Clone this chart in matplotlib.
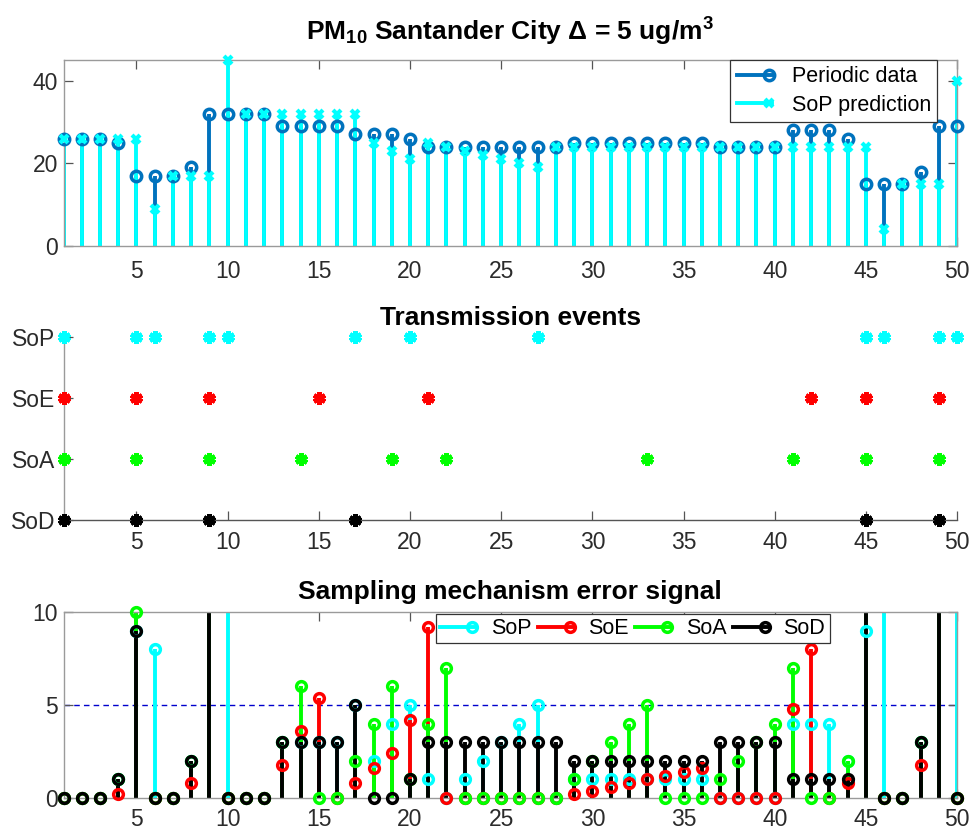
import numpy as np
import matplotlib
matplotlib.use("Agg")
import matplotlib.pyplot as plt
from matplotlib.lines import Line2D
from matplotlib.legend_handler import HandlerBase

plt.rcParams['font.family'] = ['Liberation Sans', 'DejaVu Sans']
plt.rcParams['mathtext.fontset'] = 'custom'
plt.rcParams['mathtext.rm'] = 'Liberation Sans:bold'
plt.rcParams['mathtext.bf'] = 'Liberation Sans:bold'
plt.rcParams['mathtext.it'] = 'Liberation Sans:bold'

# samples 1..50
samples = np.arange(1, 51)

periodic = [26, 26, 26, 25, 17, 17, 17, 19, 32, 32,
            32, 32, 29, 29, 29, 29, 27, 27, 27, 26,
            24, 24, 24, 24, 24, 24, 24, 24, 25, 25,
            25, 25, 25, 25, 25, 25, 24, 24, 24, 24,
            28, 28, 28, 26, 15, 15, 15, 18, 29, 29]
sop_pred = [26, 26, 26, 26, 26, 9, 17, 17, 17, 45,
            32, 32, 32, 32, 32, 32, 32, 25, 23, 21,
            25, 24, 23, 22, 21, 20, 19, 24, 24, 24,
            24, 24, 24, 24, 24, 24, 24, 24, 24, 24,
            24, 24, 24, 24, 24, 4, 15, 15, 15, 40]

# transmission instants of each mechanism
ev_sop = [1, 5, 6, 9, 10, 17, 20, 27, 45, 46, 49, 50]
ev_soe = [1, 5, 9, 15, 21, 42, 45, 49]
ev_soa = [1, 5, 9, 14, 19, 22, 33, 41, 45, 49]
ev_sod = [1, 5, 9, 17, 45, 49]
event_labels = ["SoD", "SoA", "SoE", "SoP"]

# error signals
err_sop = [0, 0, 0, 1, 9, 8, 0, 2, 15, 13,
           0, 0, 3, 3, 3, 3, 5, 2, 4, 5,
           1, 0, 1, 2, 3, 4, 5, 0, 1, 1,
           1, 1, 1, 1, 1, 1, 0, 0, 0, 0,
           4, 4, 4, 2, 9, 11, 0, 3, 14, 11]
err_soe = [0, 0, 0, 0.2, 16.4, 0, 0, 0.8, 45.8, 0,
           0, 0, 1.8, 3.6, 5.4, 0, 0.8, 1.6, 2.4, 4.2,
           9.2, 0, 0, 0, 0, 0, 0, 0, 0.2, 0.4,
           0.6, 0.8, 1.0, 1.2, 1.4, 1.6, 0, 0, 0, 0,
           4.8, 8.0, 0, 0.8, 34.6, 0, 0, 1.8, 41, 0]
err_soa = [0, 0, 0, 1, 10, 0, 0, 2, 17, 0,
           0, 0, 3, 6, 0, 0, 2, 4, 6, 1,
           4, 7, 0, 0, 0, 0, 0, 0, 1, 2,
           3, 4, 5, 0, 0, 0, 1, 2, 3, 4,
           7, 0, 0, 2, 15, 0, 0, 3, 17, 0]
err_sod = [0, 0, 0, 1, 9, 0, 0, 2, 15, 0,
           0, 0, 3, 3, 3, 3, 5, 0, 0, 1,
           3, 3, 3, 3, 3, 3, 3, 3, 2, 2,
           2, 2, 2, 2, 2, 2, 3, 3, 3, 3,
           1, 1, 1, 1, 12, 0, 0, 3, 14, 0]
delta = 5

blue = "#0072BD"
cyan = "#00FFFF"
red = "#FF0000"
green = "#00FF00"
spine_col = "#9a9a9a"
tick_col = "#2b2b2b"
stem_lw = 2.8


class StemEndHandler(HandlerBase):
    # line with the marker at its right end, like matlab stem legends
    def create_artists(self, legend, orig_handle, xdescent, ydescent,
                       width, height, fontsize, trans):
        y = (height - ydescent) / 2
        x1 = -xdescent + width
        line = Line2D([-xdescent, x1 - 2], [y, y], color=orig_handle.get_color(),
                      linewidth=orig_handle.get_linewidth())
        mark = Line2D([x1 - 4], [y], linestyle="none",
                      marker=orig_handle.get_marker(),
                      markersize=orig_handle.get_markersize(),
                      markeredgewidth=orig_handle.get_markeredgewidth(),
                      markeredgecolor=orig_handle.get_color(),
                      markerfacecolor="none")
        line.set_transform(trans)
        mark.set_transform(trans)
        return [line, mark]


def style_axes(ax, xpad, box=True, ypad=4):
    for s in ax.spines.values():
        s.set_color(spine_col)
        s.set_linewidth(1.0)
    ax.tick_params(direction="in", length=6.5, width=0.9, color="#555555",
                   labelsize=16.5, labelcolor=tick_col, top=box, right=box)
    ax.tick_params(axis="x", pad=xpad)
    ax.tick_params(axis="y", pad=ypad)
    ax.set_xticks(range(5, 51, 5))
    ax.set_xlim(1, 50)


def stems(ax, x, y, color):
    ax.vlines(x, 0, y, colors=color, linewidth=stem_lw, zorder=2)


def stem_marks(ax, x, y, color, top, marker="o", ms=7, mew=2.5):
    x = np.asarray(x)
    y = np.asarray(y, dtype=float)
    keep = y <= top
    ax.plot(x[keep], y[keep], linestyle="none", marker=marker, markersize=ms,
            markeredgewidth=mew, markeredgecolor=color, markerfacecolor="none",
            zorder=3, clip_on=False)


def legend_line(color, marker, ms=7, mew=2.5):
    return Line2D([0, 1], [0, 0], color=color, linewidth=stem_lw, marker=marker,
                  markersize=ms, markeredgewidth=mew)


fig = plt.figure(figsize=(9.73, 8.35), dpi=100)

# ---- top panel
ax1 = fig.add_axes([0.0653, 0.7054, 0.9183, 0.2227])
stems(ax1, samples, periodic, blue)
stems(ax1, samples, sop_pred, cyan)
stem_marks(ax1, samples, periodic, blue, 45, ms=7.5)
stem_marks(ax1, samples, sop_pred, cyan, 45, marker="x", ms=6, mew=3)
ax1.set_ylim(0, 45)
ax1.set_yticks([0, 20, 40])
style_axes(ax1, xpad=10)
ax1.set_title("PM$_{10}$ Santander City Δ = 5 ug/m$^3$", fontsize=19,
              fontweight="bold", pad=14)
leg = ax1.legend([legend_line(blue, "o", 7.5), legend_line(cyan, "x", 6, 3)],
                 ["Periodic data", "SoP prediction"], loc="upper right",
                 bbox_to_anchor=(0.978, 1.0), borderaxespad=0, fontsize=15.5,
                 handler_map={Line2D: StemEndHandler()},
                 handlelength=1.75, fancybox=False, framealpha=1,
                 edgecolor="#333333", borderpad=0.3, labelspacing=0.35,
                 handletextpad=0.8)
leg.get_frame().set_linewidth(0.9)

# ---- middle panel
ax2 = fig.add_axes([0.0653, 0.3772, 0.9183, 0.2192])
for lvl, ev, col in [(4, ev_sop, cyan), (3, ev_soe, red), (2, ev_soa, green), (1, ev_sod, "black")]:
    ax2.plot(ev, [lvl] * len(ev), linestyle="none", marker=(6, 2, 0),
             markersize=9, markeredgewidth=3.2, color=col, clip_on=False, zorder=3)
ax2.set_ylim(1, 4)
ax2.set_yticks([1, 2, 3, 4])
ax2.set_yticklabels(event_labels)
style_axes(ax2, xpad=8, box=False, ypad=6)
ax2.spines["top"].set_visible(False)
ax2.spines["right"].set_visible(False)
ax2.spines["bottom"].set_color("#555555")
ax2.set_title("Transmission events", fontsize=19, fontweight="bold", pad=9)

# ---- bottom panel
ax3 = fig.add_axes([0.0653, 0.0443, 0.9183, 0.2228])
series = [(err_sop, cyan, "SoP"), (err_soe, red, "SoE"),
          (err_soa, green, "SoA"), (err_sod, "black", "SoD")]
for err, col, lab in series:
    stems(ax3, samples, err, col)
for err, col, lab in series:
    stem_marks(ax3, samples, err, col, 10)
ax3.axhline(delta, color="#0000CC", linestyle=(0, (4, 3)), linewidth=1.0, zorder=1)
ax3.set_ylim(0, 10)
ax3.set_yticks([0, 5, 10])
style_axes(ax3, xpad=7)
ax3.set_title("Sampling mechanism error signal", fontsize=19, fontweight="bold", pad=9)
leg3 = ax3.legend([legend_line(c, "o") for e, c, l in series], [l for e, c, l in series],
                  loc="upper center", bbox_to_anchor=(0.637, 0.99), ncol=4,
                  fontsize=15.5, handler_map={Line2D: StemEndHandler()},
                  handlelength=1.75, fancybox=False,
                  framealpha=1, edgecolor="#333333", borderpad=0.2,
                  columnspacing=0.3, handletextpad=0.6, borderaxespad=0)
leg3.get_frame().set_linewidth(0.9)

fig.savefig("out.png", dpi=100)
